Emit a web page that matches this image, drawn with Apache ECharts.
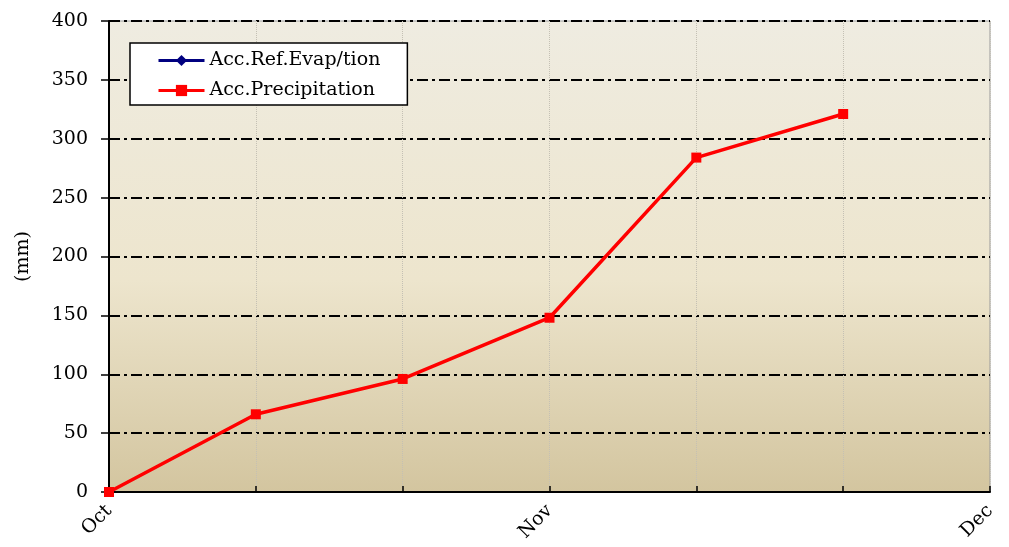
<!DOCTYPE html>
<html>
<head>
<meta charset="utf-8">
<script src="https://cdn.jsdelivr.net/npm/echarts@6/dist/echarts.min.js"></script>
<style>
  html, body { margin: 0; padding: 0; background: #fff; }
  #chart { width: 1009px; height: 547px; }
</style>
</head>
<body>
<div id="chart"></div>
<script>
// categories: ten-day steps from Oct to Dec, only month starts labelled
const categories = ['Oct', '', '', 'Nov', '', '', 'Dec'];
const yTicks = [0, 50, 100, 150, 200, 250, 300, 350, 400];
const evapValues = [0, null, null, null, null, null, null];
const precipValues = [0, 66, 96, 148, 284, 321, null];

const chart = echarts.init(document.getElementById('chart'));
const serif = 'DejaVu Serif';

const option = {
  animation: false,
  grid: {
    left: 109, right: 19, top: 21, bottom: 55,
    show: true,
    borderColor: '#9a9a9a',
    borderWidth: 1,
    backgroundColor: new echarts.graphic.LinearGradient(0, 0, 0, 1, [
      { offset: 0, color: '#efece1' },
      { offset: 0.55, color: '#ede5cd' },
      { offset: 1, color: '#d3c59f' }
    ])
  },
  legend: {
    orient: 'vertical',
    left: 130, top: 43,
    backgroundColor: '#fff',
    borderColor: '#000',
    borderWidth: 1.5,
    borderRadius: 0,
    padding: [8, 27, 5, 27],
    itemWidth: 46,
    itemHeight: 14,
    itemGap: 11,
    lineStyle: { width: 3 },
    textStyle: { fontFamily: serif, fontSize: 19, color: '#000', padding: [0, 0, 0, 0] },
    data: ['Acc.Ref.Evap/tion', 'Acc.Precipitation']
  },
  xAxis: {
    type: 'category',
    boundaryGap: false,
    data: categories,
    axisLine: { lineStyle: { color: '#000', width: 2 } },
    axisTick: { show: true, inside: true, length: 6, interval: 0, lineStyle: { color: '#000', width: 1.5 } },
    axisLabel: {
      interval: 0, rotate: 45, margin: 16,
      fontFamily: serif, fontSize: 19, color: '#000'
    },
    splitLine: { show: true, interval: 0, lineStyle: { color: '#c4c0b4', type: 'dotted', width: 1 } }
  },
  yAxis: {
    type: 'value',
    min: yTicks[0], max: yTicks[yTicks.length - 1], interval: 50,
    name: '(mm)',
    nameLocation: 'middle',
    nameGap: 76,
    nameRotate: 90,
    nameTextStyle: { fontFamily: serif, fontSize: 19, color: '#000' },
    axisLine: { show: true, lineStyle: { color: '#000', width: 2 } },
    axisTick: { show: true, length: 8, lineStyle: { color: '#000', width: 1.5 } },
    axisLabel: { margin: 21, fontFamily: serif, fontSize: 19, color: '#000' },
    splitLine: { show: true, lineStyle: { color: '#000', width: 2, type: [11, 4, 3, 4] } }
  },
  series: [
    {
      name: 'Acc.Ref.Evap/tion',
      type: 'line',
      data: evapValues,
      color: '#000080',
      symbol: 'diamond',
      symbolSize: 10,
      lineStyle: { width: 3.5, color: '#000080' },
      itemStyle: { color: '#000080' }
    },
    {
      name: 'Acc.Precipitation',
      type: 'line',
      data: precipValues,
      color: '#ff0000',
      symbol: 'rect',
      symbolSize: 10,
      lineStyle: { width: 3.5, color: '#ff0000' },
      itemStyle: { color: '#ff0000' },
      z: 3
    }
  ]
};

chart.setOption(option);
</script>
</body>
</html>
